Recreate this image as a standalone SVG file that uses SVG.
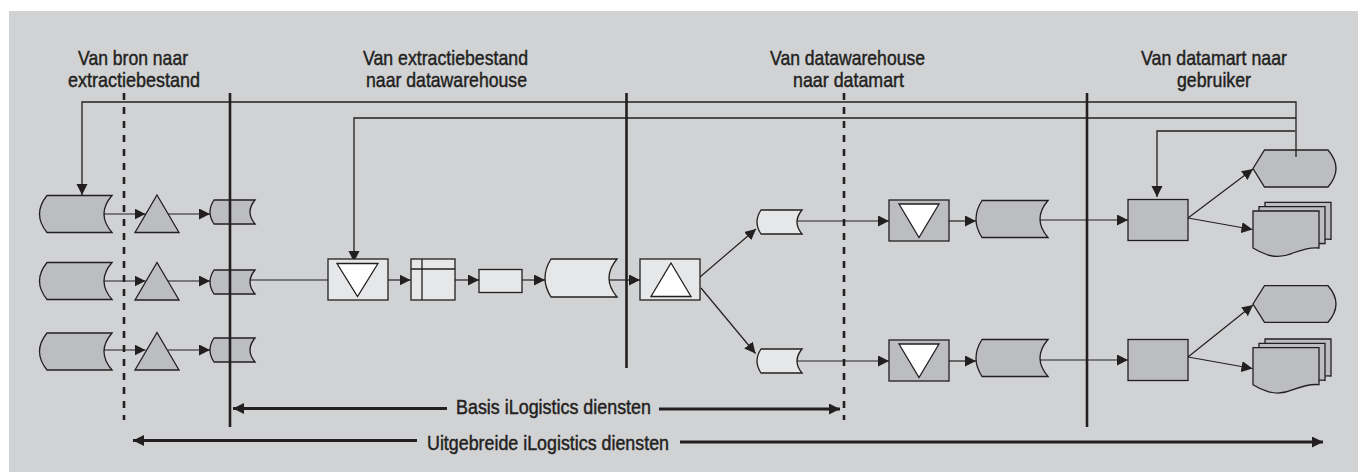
<svg xmlns="http://www.w3.org/2000/svg" width="1358" height="472" viewBox="0 0 1358 472">
<defs>
<style>
.bg{fill:#d1d2d4}
.gray{fill:#bcbdc0;stroke:#231f20;stroke-width:1.3}
.light{fill:#e6e7e8;stroke:#231f20;stroke-width:1.3}
.white{fill:#ffffff;stroke:#231f20;stroke-width:1.3}
.ln{fill:none;stroke:#231f20;stroke-width:1.3}
.thin{fill:none;stroke:#231f20;stroke-width:1.2}
.solid{fill:none;stroke:#231f20;stroke-width:2.6}
.dash{fill:none;stroke:#231f20;stroke-width:2.6;stroke-dasharray:7 7}
.span{fill:none;stroke:#231f20;stroke-width:3}
.t{font-family:'Liberation Sans Narrow','Liberation Sans',Arial,sans-serif;font-size:21px;fill:#231f20;stroke:#231f20;stroke-width:0.45}
.tb{font-family:'Liberation Sans Narrow','Liberation Sans',Arial,sans-serif;font-size:20px;fill:#231f20;stroke:#231f20;stroke-width:0.45}
</style>
<marker id="ah" markerUnits="userSpaceOnUse" markerWidth="12" markerHeight="12" refX="11" refY="5.5" orient="auto-start-reverse">
<path d="M0,0 L11,5.5 L0,11 Z" fill="#231f20"/>
</marker>
</defs>
<rect x="0" y="0" width="1358" height="472" fill="#ffffff"/>
<rect class="bg" x="9" y="11" width="1349" height="461"/>

<g id="labels">
<text class="t" x="78" y="65" textLength="110" lengthAdjust="spacingAndGlyphs">Van bron naar</text>
<text class="t" x="68" y="87" textLength="132" lengthAdjust="spacingAndGlyphs">extractiebestand</text>
<text class="t" x="363" y="65" textLength="165" lengthAdjust="spacingAndGlyphs">Van extractiebestand</text>
<text class="t" x="366" y="87" textLength="161" lengthAdjust="spacingAndGlyphs">naar datawarehouse</text>
<text class="t" x="770" y="64.5" textLength="155" lengthAdjust="spacingAndGlyphs">Van datawarehouse</text>
<text class="t" x="793" y="87" textLength="111" lengthAdjust="spacingAndGlyphs">naar datamart</text>
<text class="t" x="1141" y="64.5" textLength="146" lengthAdjust="spacingAndGlyphs">Van datamart naar</text>
<text class="t" x="1177" y="86.5" textLength="74" lengthAdjust="spacingAndGlyphs">gebruiker</text>
</g>

<g id="connectors">
<!-- feedback lines -->
<path class="ln" d="M1296,157 V102 H82 V195" marker-end="url(#ah)"/>
<path class="ln" d="M1296,118 H354 V262" marker-end="url(#ah)"/>
<path class="ln" d="M1295,131 H1157 V197" marker-end="url(#ah)"/>
<!-- left rows -->
<line class="thin" x1="104" y1="214" x2="145.5" y2="214" marker-end="url(#ah)"/>
<line class="thin" x1="168" y1="214" x2="210" y2="214" marker-end="url(#ah)"/>
<line class="thin" x1="104" y1="281" x2="145.5" y2="281" marker-end="url(#ah)"/>
<line class="thin" x1="168" y1="281" x2="210" y2="281" marker-end="url(#ah)"/>
<line class="thin" x1="104" y1="350" x2="145.5" y2="350" marker-end="url(#ah)"/>
<line class="thin" x1="168" y1="350" x2="210" y2="350" marker-end="url(#ah)"/>
<!-- middle chain -->
<line class="thin" x1="250" y1="280" x2="328" y2="280"/>
<line class="thin" x1="388" y1="280" x2="410.5" y2="280" marker-end="url(#ah)"/>
<line class="thin" x1="455" y1="280" x2="479" y2="280" marker-end="url(#ah)"/>
<line class="thin" x1="522" y1="280" x2="545" y2="280" marker-end="url(#ah)"/>
<line class="thin" x1="609" y1="280" x2="640" y2="280" marker-end="url(#ah)"/>
<line class="thin" x1="700" y1="277" x2="756" y2="229" marker-end="url(#ah)"/>
<line class="thin" x1="701" y1="288" x2="755.5" y2="353.5" marker-end="url(#ah)"/>
<!-- upper right chain -->
<line class="thin" x1="797" y1="221" x2="889" y2="221" marker-end="url(#ah)"/>
<line class="thin" x1="949" y1="221" x2="976" y2="221" marker-end="url(#ah)"/>
<line class="thin" x1="1040" y1="220" x2="1128" y2="220" marker-end="url(#ah)"/>
<line class="thin" x1="1188" y1="218" x2="1253" y2="169" marker-end="url(#ah)"/>
<line class="thin" x1="1188" y1="218" x2="1252.5" y2="229.5" marker-end="url(#ah)"/>
<!-- lower right chain -->
<line class="thin" x1="797" y1="361" x2="889" y2="361" marker-end="url(#ah)"/>
<line class="thin" x1="949" y1="361" x2="976" y2="361" marker-end="url(#ah)"/>
<line class="thin" x1="1040" y1="360" x2="1128" y2="360" marker-end="url(#ah)"/>
<line class="thin" x1="1188" y1="357" x2="1253" y2="305" marker-end="url(#ah)"/>
<line class="thin" x1="1188" y1="357" x2="1252.5" y2="368.5" marker-end="url(#ah)"/>
<!-- span arrows -->
<line class="span" x1="233" y1="408.5" x2="447" y2="408.5" marker-start="url(#ah)"/>
<line class="span" x1="659" y1="409" x2="840" y2="409" marker-end="url(#ah)"/>
<line class="span" x1="133" y1="440.5" x2="417" y2="440.5" marker-start="url(#ah)"/>
<line class="span" x1="680" y1="442" x2="1323" y2="442" marker-end="url(#ah)"/>
</g>

<g id="span-labels">
<text class="tb" x="456" y="414" textLength="195" lengthAdjust="spacingAndGlyphs">Basis iLogistics diensten</text>
<text class="tb" x="427" y="450" textLength="242" lengthAdjust="spacingAndGlyphs">Uitgebreide iLogistics diensten</text>
</g>

<g id="source-1"><path class="gray" d="M47,195.5 L112,195.5 Q96,214 112,232.5 L47,232.5 Q32,214 47,195.5 Z"/></g>
<g id="source-2"><path class="gray" d="M47,262.5 L112,262.5 Q96,281 112,299.5 L47,299.5 Q32,281 47,262.5 Z"/></g>
<g id="source-3"><path class="gray" d="M47,333 L112,333 Q96,351.5 112,370 L47,370 Q32,351.5 47,333 Z"/></g>

<g id="extract-1"><path class="gray" d="M157,195 L179,232.5 L135,232.5 Z"/></g>
<g id="extract-2"><path class="gray" d="M157,262.5 L179,300 L135,300 Z"/></g>
<g id="extract-3"><path class="gray" d="M157,332.5 L179,370 L135,370 Z"/></g>

<g id="file-1"><path class="gray" d="M214,200 L255,200 Q245,212 255,224 L214,224 Q206,212 214,200 Z"/></g>
<g id="file-2"><path class="gray" d="M214,270 L255,270 Q245,282 255,294 L214,294 Q206,282 214,270 Z"/></g>
<g id="file-3"><path class="gray" d="M214,338 L255,338 Q245,350 255,362 L214,362 Q206,350 214,338 Z"/></g>

<g id="load-box">
<rect class="light" x="328" y="259" width="60" height="41"/>
<path class="white" d="M337,263.5 L378,263.5 L357.5,296.5 Z"/>
</g>
<g id="table-box">
<rect class="light" x="411" y="259" width="44" height="41"/>
<line class="ln" x1="422" y1="259" x2="422" y2="300"/>
<line class="ln" x1="411" y1="269" x2="455" y2="269"/>
</g>
<g id="process-box"><rect class="light" x="479" y="269.5" width="43" height="23"/></g>
<g id="datawarehouse"><path class="light" d="M551,259 L617,259 Q601,278 617,297 L551,297 Q539,278 551,259 Z"/></g>
<g id="extract-box">
<rect class="light" x="640" y="259" width="60" height="41"/>
<path class="white" d="M671,263 L691,296.5 L651,296.5 Z"/>
</g>

<g id="mart-file-1"><path class="light" d="M761,210 L802,210 Q792,222 802,234 L761,234 Q753,222 761,210 Z"/></g>
<g id="mart-file-2"><path class="light" d="M761,349 L802,349 Q792,361 802,373 L761,373 Q753,361 761,349 Z"/></g>

<g id="mart-load-1">
<rect class="gray" x="889" y="200" width="60" height="41"/>
<path class="white" d="M899,204 L939,204 L919,237.5 Z"/>
</g>
<g id="mart-load-2">
<rect class="gray" x="889" y="340" width="60" height="41"/>
<path class="white" d="M899,344 L939,344 L919,377.5 Z"/>
</g>

<g id="datamart-1"><path class="gray" d="M982,200.5 L1048,200.5 Q1032,219 1048,237.5 L982,237.5 Q970,219 982,200.5 Z"/></g>
<g id="datamart-2"><path class="gray" d="M982,339.5 L1048,339.5 Q1032,358 1048,376.5 L982,376.5 Q970,358 982,339.5 Z"/></g>

<g id="user-process-1"><rect class="gray" x="1128" y="199.5" width="60" height="41"/></g>
<g id="user-process-2"><rect class="gray" x="1128" y="339.5" width="60" height="41"/></g>

<g id="display-1"><path class="gray" d="M1253,168.5 L1264.5,150 L1328,150 Q1344,168.5 1328,187 L1264.5,187 Z"/>
<line class="ln" x1="1296" y1="150" x2="1296" y2="157"/></g>
<g id="display-2"><path class="gray" d="M1253,304 L1264.5,285.7 L1328,285.7 Q1344,304 1328,322.3 L1264.5,322.3 Z"/></g>

<g id="report-1">
<path class="gray" transform="translate(1265,202.3)" d="M0,0 H66 V37 C58,36 48,39 40,42 C32,45.5 24,46.5 15,44 C9,42 4,39.5 0,37 Z"/>
<path class="gray" transform="translate(1259,206.7)" d="M0,0 H66 V37 C58,36 48,39 40,42 C32,45.5 24,46.5 15,44 C9,42 4,39.5 0,37 Z"/>
<path class="gray" transform="translate(1253,211)" d="M0,0 H66 V37 C58,36 48,39 40,42 C32,45.5 24,46.5 15,44 C9,42 4,39.5 0,37 Z"/>
</g>
<g id="report-2">
<path class="gray" transform="translate(1265,339)" d="M0,0 H66 V37 C58,36 48,39 40,42 C32,45.5 24,46.5 15,44 C9,42 4,39.5 0,37 Z"/>
<path class="gray" transform="translate(1259,343.4)" d="M0,0 H66 V37 C58,36 48,39 40,42 C32,45.5 24,46.5 15,44 C9,42 4,39.5 0,37 Z"/>
<path class="gray" transform="translate(1253,347.7)" d="M0,0 H66 V37 C58,36 48,39 40,42 C32,45.5 24,46.5 15,44 C9,42 4,39.5 0,37 Z"/>
</g>

<g id="phase-lines">
<line class="dash" x1="124" y1="93" x2="124" y2="420"/>
<line class="solid" x1="230" y1="93" x2="230" y2="427"/>
<line class="solid" x1="626.5" y1="93" x2="626.5" y2="368"/>
<line class="dash" x1="844" y1="93" x2="844" y2="420"/>
<line class="solid" x1="1087" y1="93" x2="1087" y2="427"/>
</g>
</svg>
